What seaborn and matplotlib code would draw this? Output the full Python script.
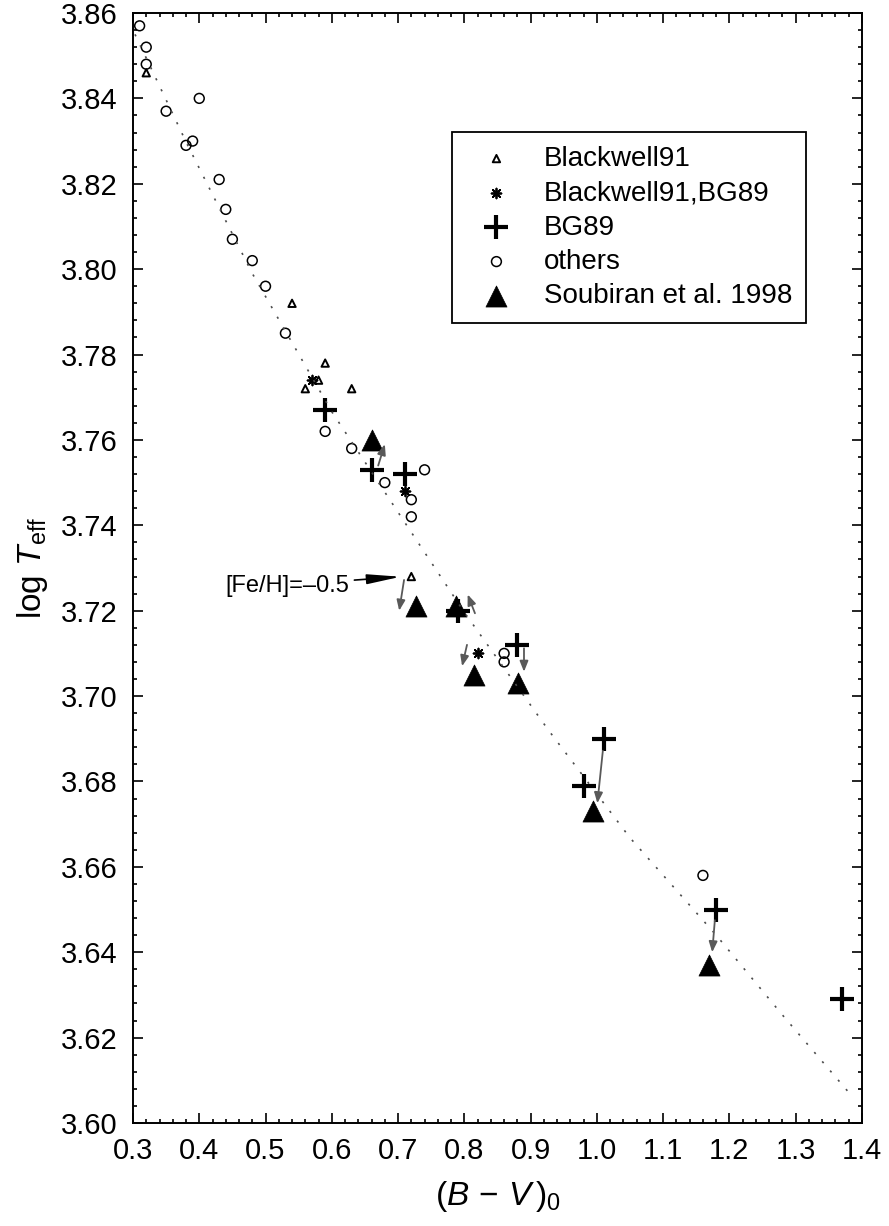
"""
plot.py
log Teff versus (B-V)0 calibration plot with literature temperatures.
"""

import pandas as pd
import seaborn as sns
import matplotlib.pyplot as plt
from matplotlib.ticker import MultipleLocator

# Blackwell91 (small open triangles)
bw91_bv = [0.32, 0.54, 0.59, 0.58, 0.56, 0.63, 0.72]
bw91_teff = [3.846, 3.792, 3.778, 3.774, 3.772, 3.772, 3.728]

# Blackwell91,BG89 (asterisks)
bwbg_bv = [0.57, 0.71, 0.82]
bwbg_teff = [3.774, 3.748, 3.710]

# BG89 (plus)
bg89_bv = [0.59, 0.66, 0.71, 0.79, 0.88, 0.98, 1.01, 1.18, 1.37]
bg89_teff = [3.767, 3.753, 3.752, 3.720, 3.712, 3.679, 3.690, 3.650, 3.629]

# others (open circles)
oth_bv = [0.31, 0.32, 0.32, 0.35, 0.40, 0.38, 0.39, 0.43, 0.44, 0.45, 0.48,
          0.50, 0.53, 0.59, 0.63, 0.68, 0.74, 0.72, 0.72, 0.86, 0.86, 1.16]
oth_teff = [3.857, 3.852, 3.848, 3.837, 3.840, 3.829, 3.830, 3.821, 3.814,
            3.807, 3.802, 3.796, 3.785, 3.762, 3.758, 3.750, 3.753, 3.746,
            3.742, 3.710, 3.708, 3.658]

# Soubiran et al. 1998 (filled triangles)
soub_bv = [0.66, 0.727, 0.787, 0.814, 0.881, 0.994, 1.169]
soub_teff = [3.760, 3.721, 3.721, 3.705, 3.703, 3.673, 3.637]

# dotted calibration curve
curve_bv = [0.303, 0.381, 0.48, 0.60, 0.713, 0.80, 0.927, 1.05, 1.18, 1.28, 1.3865]
curve_teff = [3.855, 3.8295, 3.799, 3.7666, 3.740, 3.7196, 3.692, 3.6668,
              3.644, 3.6253, 3.606]

# gray shift arrows: start -> end
arrow_start_bv = [0.670, 0.709, 0.816, 0.804, 0.890, 1.009, 1.178]
arrow_start_teff = [3.7540, 3.7272, 3.7194, 3.7120, 3.7112, 3.6872, 3.6475]
arrow_end_bv = [0.680, 0.7017, 0.805, 0.7966, 0.890, 1.0007, 1.174]
arrow_end_teff = [3.7590, 3.7200, 3.7238, 3.7070, 3.7057, 3.6749, 3.6400]

note_text = "[Fe/H]=\u20130.5"
note_xy = (0.708, 3.728)
note_text_xy = (0.627, 3.7258)


def main():
    sns.set_style("ticks")
    plt.rcParams["font.family"] = ["Liberation Sans", "DejaVu Sans"]
    plt.rcParams["mathtext.fontset"] = "custom"
    plt.rcParams["mathtext.rm"] = "Liberation Sans"
    plt.rcParams["mathtext.it"] = "Liberation Sans:italic"
    for key in ["text.color", "axes.labelcolor", "xtick.color", "ytick.color"]:
        plt.rcParams[key] = "black"

    fig, ax = plt.subplots(figsize=(8.89, 12.26), dpi=100)
    fig.subplots_adjust(left=0.1496, right=0.9696, top=0.9894, bottom=0.0840)

    curve = pd.DataFrame({"bv": curve_bv, "teff": curve_teff})
    sns.lineplot(data=curve, x="bv", y="teff", ax=ax, sort=False, estimator=None,
                 color="0.3", lw=1.2, linestyle=(0, (1.3, 6.0)))

    # gray arrows
    for x0, y0, x1, y1 in zip(arrow_start_bv, arrow_start_teff,
                              arrow_end_bv, arrow_end_teff):
        ax.annotate("", xy=(x1, y1), xytext=(x0, y0),
                    arrowprops=dict(arrowstyle="-|>,head_length=0.45,head_width=0.18",
                                    color="0.35", lw=1.3, mutation_scale=14,
                                    shrinkA=0, shrinkB=0))

    sns.scatterplot(x=oth_bv, y=oth_teff, ax=ax, marker="o", s=50,
                    color="black", facecolors="none", edgecolor="black",
                    linewidth=1.1, label="others")
    sns.scatterplot(x=bw91_bv, y=bw91_teff, ax=ax, marker="^", s=28,
                    color="black", facecolors="none", edgecolor="black",
                    linewidth=1.4, label="Blackwell91")
    sns.scatterplot(x=bwbg_bv, y=bwbg_teff, ax=ax, marker=(8, 2, 0), s=50,
                    color="black", edgecolor=None, linewidth=1.3,
                    label="Blackwell91,BG89")
    sns.scatterplot(x=soub_bv, y=soub_teff, ax=ax, marker="^", s=230,
                    color="black", edgecolor="black", linewidth=0.5,
                    label="Soubiran et al. 1998")
    sns.scatterplot(x=bg89_bv, y=bg89_teff, ax=ax, marker="+", s=300,
                    color="black", edgecolor=None, linewidth=3.0, label="BG89")

    ax.annotate(note_text, xy=note_xy, xytext=note_text_xy, fontsize=17,
                ha="right", va="center",
                arrowprops=dict(arrowstyle="-|>,head_length=1.7,head_width=0.25",
                                color="black", lw=1.2, mutation_scale=12,
                                shrinkA=1, shrinkB=2, relpos=(1.0, 0.75)))

    ax.set_xlim(0.3, 1.4)
    ax.set_ylim(3.60, 3.86)
    ax.xaxis.set_major_locator(MultipleLocator(0.1))
    ax.xaxis.set_minor_locator(MultipleLocator(0.02))
    ax.yaxis.set_major_locator(MultipleLocator(0.02))
    ax.yaxis.set_minor_locator(MultipleLocator(0.004))
    ax.xaxis.set_major_formatter(plt.FormatStrFormatter("%.1f"))
    ax.yaxis.set_major_formatter(plt.FormatStrFormatter("%.2f"))
    ax.tick_params(which="both", direction="in", top=True, right=True,
                   width=1.2, color="black")
    ax.tick_params(which="major", length=7, labelsize=21)
    ax.tick_params(axis="x", which="major", pad=10)
    ax.tick_params(axis="y", which="major", pad=11)
    ax.tick_params(which="minor", length=3)
    for sp in ax.spines.values():
        sp.set_visible(True)
        sp.set_linewidth(1.4)
        sp.set_color("black")

    ax.set_xlabel(r"$(B\,-\,V\,)_0$", fontsize=24, labelpad=10)
    ax.set_ylabel(r"log $T_{\rm eff}$", fontsize=24, labelpad=8)

    handles, labels = ax.get_legend_handles_labels()
    order = ["Blackwell91", "Blackwell91,BG89", "BG89", "others",
             "Soubiran et al. 1998"]
    lookup = dict(zip(labels, handles))
    leg = ax.legend([lookup[k] for k in order], order, loc="upper left",
                    bbox_to_anchor=(0.4376, 0.8928), fontsize=20, frameon=True,
                    fancybox=False, framealpha=1, edgecolor="black",
                    borderpad=0.5, handlelength=2.2, handletextpad=0.6,
                    labelspacing=0.3, scatterpoints=1, borderaxespad=0)
    leg.get_frame().set_linewidth(1.3)

    plt.savefig("out.png", dpi=100)
    plt.close()


if __name__ == "__main__":
    main()
